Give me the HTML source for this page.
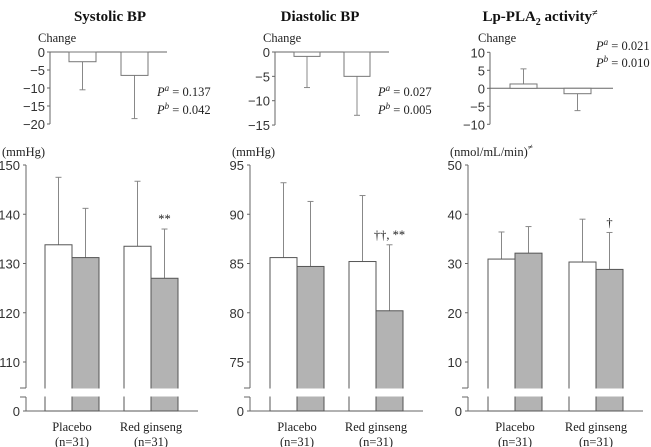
<!DOCTYPE html>
<html><head><meta charset="utf-8"><style>
body{margin:0;background:#fff}
svg{display:block}
.t{font-family:"Liberation Sans",sans-serif;font-size:13px;fill:#333}
.s{font-family:"Liberation Serif",serif;font-size:12.5px;fill:#222}
.h{font-family:"Liberation Serif",serif;font-size:15px;font-weight:bold;fill:#111}
</style></head><body>
<svg id="c" width="651" height="447"></svg>
<script>
// Top change panels: [placebo, red ginseng]
const changeSys = [-2.7, -6.5], changeSysErr = [-10.5, -18.5];
const changeDia = [-0.9, -5.0], changeDiaErr = [-7.3, -13.0];
const changeLp = [1.2, -1.5], changeLpErr = [5.4, -6.2];
// Bottom panels: [placebo-before, placebo-after, rg-before, rg-after]
const sysVals = [133.8, 131.2, 133.5, 127.0], sysErr = [147.5, 141.2, 146.7, 137.0];
const diaVals = [85.6, 84.7, 85.2, 80.2], diaErr = [93.2, 91.3, 91.9, 86.9];
const lpVals = [30.9, 32.1, 30.3, 28.8], lpErr = [36.4, 37.5, 39.0, 36.3];
const sysTicks = [110,120,130,140,150], diaTicks = [75,80,85,90,95], lpTicks = [10,20,30,40,50];
const groups = ["Placebo", "Red ginseng"];
const titles = ["Systolic BP", "Diastolic BP", "Lp-PLA"];

const svg = document.getElementById('c');
const NS = 'http://www.w3.org/2000/svg';
function mk(tag, at, txt){const e=document.createElementNS(NS,tag);for(const k in at)e.setAttribute(k,at[k]);if(txt!==undefined)e.textContent=txt;svg.appendChild(e);return e;}
function line(x1,y1,x2,y2,c,w){return mk('line',{x1,y1,x2,y2,stroke:c||'#555','stroke-width':w||1});}
function ts(parent,txt,at){const s=document.createElementNS(NS,'tspan');for(const k in at)s.setAttribute(k,at[k]);s.textContent=txt;parent.appendChild(s);return s;}

const topPanels = [
 {ax:50, end:167, y0:52, ppu:3.6, ticks:[0,-5,-10,-15,-20], vals:changeSys, err:changeSysErr, bx:[69,121], bw:27, p:[[157,96],[157,114]], pv:["0.137","0.042"]},
 {ax:275, end:389, y0:52, ppu:4.87, ticks:[0,-5,-10,-15], vals:changeDia, err:changeDiaErr, bx:[294,344], bw:26, p:[[378,96],[378,114]], pv:["0.027","0.005"]},
 {ax:490, end:613, y0:88.3, ppu:3.6, ticks:[10,5,0,-5,-10], vals:changeLp, err:changeLpErr, bx:[510,564], bw:27, p:[[596,50],[596,67]], pv:["0.021","0.010"]}
];
const botPanels = [
 {ax:26, end:198, ticks:sysTicks, vals:sysVals, err:sysErr, bx:[45,72,124,151], bw:27, star:["","","","**"], unit:"(mmHg)", ux:2, lx:[72,151]},
 {ax:250, end:423, ticks:diaTicks, vals:diaVals, err:diaErr, bx:[270,297,349,376], bw:27, star:["","","","††, **"], unit:"(mmHg)", ux:232, lx:[297,376]},
 {ax:468, end:643, ticks:lpTicks, vals:lpVals, err:lpErr, bx:[488,515,569,596], bw:27, star:["","","","†"], unit:"(nmol/mL/min)", ux:450, lx:[515,596]}
];
const tx=[110,320,540];
topPanels.forEach((P,i)=>{
  const y=v=>P.y0 - v*P.ppu;
  const t=mk('text',{x:tx[i],y:21,'text-anchor':'middle',class:'h'},titles[i]);
  
  
  if(i===2){ts(t,'2',{'font-size':'10',dy:'4'});ts(t,' activity',{dy:'-4'});ts(t,'≠',{'font-size':'10',dy:'-5','font-style':'italic'});}
  const ch=mk('text',{x:P.ax-12,y:42,class:'s'},'Change');
  
  
  const ymin=Math.min(...P.ticks), ymax=Math.max(...P.ticks);
  line(P.ax,y(ymax),P.ax,y(ymin),'#666');
  line(P.ax,P.y0,P.end,P.y0,'#666');
  P.ticks.forEach(v=>{line(P.ax-3,y(v),P.ax,y(v),'#666');
    const l=mk('text',{x:P.ax-5,y:y(v)+5,'text-anchor':'end',class:'t'},v<0?'\u2212'+(-v):String(v));
    
    });
  P.vals.forEach((v,j)=>{
    const x=P.bx[j], c=x+P.bw/2;
    line(c,y(v),c,y(P.err[j]),'#888');
    line(c-3,y(P.err[j]),c+3,y(P.err[j]),'#888');
    const r=mk('rect',{x,y:Math.min(y(v),P.y0),width:P.bw,height:Math.abs(y(v)-P.y0),fill:'#fff',stroke:'#777'});
    
    
  });
  ['a','b'].forEach((s,k)=>{
    const t=mk('text',{x:P.p[k][0],y:P.p[k][1],class:'s'});
    
    
    ts(t,'P',{'font-style':'italic'});
    ts(t,s,{'font-style':'italic','font-size':'9',dy:'-5'});
    ts(t,' = '+P.pv[k],{dy:'5'});
  });
});
botPanels.forEach((P,i)=>{
  const t0=P.ticks[0], t1=P.ticks[P.ticks.length-1];
  const y=v=>165+(t1-v)*(197/(t1-t0));
  const u=mk('text',{x:P.ux,y:156,class:'s'},P.unit);
  
  
  if(i===2){ts(u,'≠',{'font-size':'9',dy:'-6','font-style':'italic'});}
  line(P.ax,y(t1),P.ax,388,'#666');line(P.ax,397,P.ax,411,'#666');
  line(P.ax-6,388,P.ax,388,'#666');line(P.ax-6,397,P.ax,397,'#666');
  line(P.ax,411,P.end,411,'#666');
  line(P.ax-3,411,P.ax,411,'#666');
  const z=mk('text',{x:P.ax-6,y:416,'text-anchor':'end',class:'t'},'0');
  
  
  P.ticks.forEach(v=>{line(P.ax-3,y(v),P.ax,y(v),'#666');
    const l=mk('text',{x:P.ax-6,y:y(v)+5,'text-anchor':'end',class:'t'},String(v));
    
    });
  P.vals.forEach((v,j)=>{
    const x=P.bx[j], c=x+P.bw/2, grey=j%2===1;
    line(c,y(v),c,y(P.err[j]),'#888');
    line(c-3,y(P.err[j]),c+3,y(P.err[j]),'#888');
    const r=mk('rect',{x,y:y(v),width:P.bw,height:411-y(v),fill:grey?'#b3b3b3':'#fff',stroke:'#555'});
    
    
    mk('rect',{x:x-1,y:388.5,width:P.bw+2,height:8,fill:'#fff'});
    if(P.star[j]){const s=mk('text',{x:c,y:y(P.err[j])-6,'text-anchor':'middle',class:'s','font-size':'10',fill:'#777'},P.star[j]);
      
      }
  });
  groups.forEach((g,k)=>{
    const a=mk('text',{x:P.lx[k],y:431,'text-anchor':'middle',class:'s'},g);
    
    
    const b=mk('text',{x:P.lx[k],y:446,'text-anchor':'middle',class:'s'},'(n=31)');
    
    
  });
});
</script>
</body></html>
